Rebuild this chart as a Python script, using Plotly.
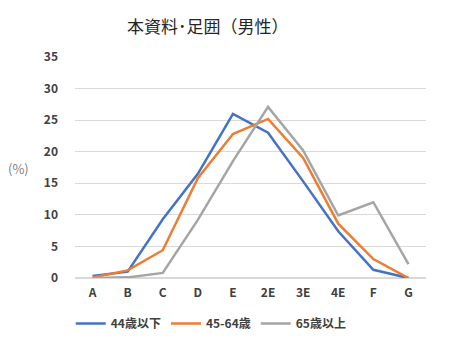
import plotly.graph_objects as go

categories = ["A", "B", "C", "D", "E", "2E", "3E", "4E", "F", "G"]
under44 = [0.3, 1.0, 9.3, 16.5, 26.0, 23.0, 15.3, 7.4, 1.3, 0.0]
age45_64 = [0.1, 1.2, 4.4, 15.8, 22.8, 25.2, 19.0, 8.6, 3.0, 0.0]
over65 = [0.0, 0.1, 0.8, 9.2, 18.5, 27.1, 20.2, 9.9, 12.0, 2.2]
series_names = ["44歳以下", "45-64歳", "65歳以上"]
colors = ["#4472C4", "#ED7D31", "#A5A5A5"]
yticks = [0, 5, 10, 15, 20, 25, 30, 35]

font = "Noto Sans CJK JP"
tickfont = dict(family=font, size=12, color="#404040", weight="bold")
fig = go.Figure()
for name, vals, c in zip(series_names, [under44, age45_64, over65], colors):
    fig.add_trace(go.Scatter(x=categories, y=vals, mode="lines", name=name,
                             line=dict(color=c, width=2.5)))

fig.update_layout(
    width=472, height=362,
    margin=dict(l=75, r=46, t=57, b=84, autoexpand=False),
    paper_bgcolor="white", plot_bgcolor="white",
    font=dict(family=font, size=11, color="#404040"),
    showlegend=True,
    legend=dict(orientation="h", x=-0.012, xanchor="left", y=-0.14, yanchor="top",
                font=dict(family=font, size=12, color="#404040", weight="bold"),
                itemwidth=30, tracegroupgap=0),
    xaxis=dict(type="category", showgrid=False, zeroline=False, showline=False,
               ticks="", tickfont=tickfont, range=[-0.5, 9.5], ticklabelstandoff=6),
    yaxis=dict(range=[0, 35], tickvals=yticks, showgrid=True, gridcolor="#D9D9D9",
               gridwidth=1, zeroline=True, zerolinecolor="#D9D9D9", showline=False,
               ticks="", ticklabelstandoff=16, tickfont=tickfont),
    annotations=[
        dict(text="本資料･足囲（男性）", xref="paper", yref="paper",
             x=(208 - 75) / 351, y=1.0, yshift=32, xanchor="center", yanchor="middle",
             showarrow=False, font=dict(family=font, size=17, color="#262626")),
        dict(text="(%)", xref="paper", yref="paper", x=(18 - 75) / 351, y=(278 - 168) / 221,
             xanchor="center", yanchor="middle", showarrow=False,
             font=dict(family=font, size=13, color="#7F7F7F")),
    ],
)

fig.write_html("out.html", config={"displayModeBar": False},
               post_script="document.body.style.margin='0';")
